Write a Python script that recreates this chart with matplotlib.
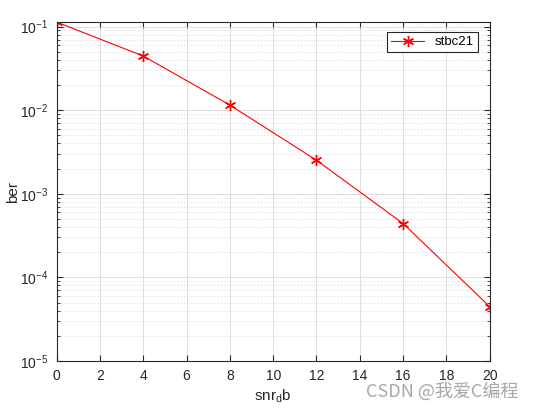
import matplotlib
matplotlib.use("Agg")
import matplotlib.pyplot as plt
import numpy as np

plt.rcParams['font.family'] = ['Liberation Sans', 'DejaVu Sans']

# snr (dB) and bit error rate
snr_db = [0, 4, 8, 12, 16, 20]
ber = [0.1132, 0.0444, 0.0115, 0.00252, 0.000441, 0.0000447]
xticks = list(range(0, 21, 2))

fig = plt.figure(figsize=(5.35, 4.09), dpi=100)
ax = fig.add_axes([0.106, 0.1174, 0.8093, 0.8286])

# matlab style asterisk marker
ax.semilogy(snr_db, ber, '-', marker=(6, 2, 0), color='red', linewidth=0.8,
            markersize=8, markeredgewidth=1.0, label='stbc21')

ax.set_xlim(0, 20)
ax.set_ylim(1e-5, ber[0])
ax.set_xticks(xticks)

ax.grid(True, which='major', color='#d9d9d9', linewidth=0.6, linestyle='-')
ax.grid(True, which='minor', axis='y', color='#e2e2e2', linewidth=0.6, linestyle=(0, (2, 2)))
ax.grid(False, which='minor', axis='x')
ax.set_axisbelow(True)

ax.tick_params(which='both', direction='in', top=True, right=True, labelsize=10,
               colors='#262626', pad=6)
ax.tick_params(which='major', length=4)
ax.tick_params(which='minor', length=2)
for s in ax.spines.values():
    s.set_color('#262626')
    s.set_linewidth(0.8)

ax.set_xlabel('snr$_\\mathregular{d}$b', fontsize=11, color='#262626', labelpad=3)
ax.set_ylabel('ber', fontsize=11, color='#262626')
ax.yaxis.set_label_coords(-0.085, 0.5)

leg = ax.legend(loc='upper right', bbox_to_anchor=(0.973, 0.97), fontsize=9.5,
                fancybox=False, framealpha=1, edgecolor='#262626', handlelength=2.5,
                borderpad=0.3, borderaxespad=0)
leg.get_frame().set_linewidth(0.8)

fig.text(0.968, 0.043, 'CSDN @我爱C编程', ha='right', va='center', fontsize=13,
         color='#a8a8a8', family=['Noto Sans CJK SC', 'DejaVu Sans'])

fig.savefig('out.png', dpi=100)
